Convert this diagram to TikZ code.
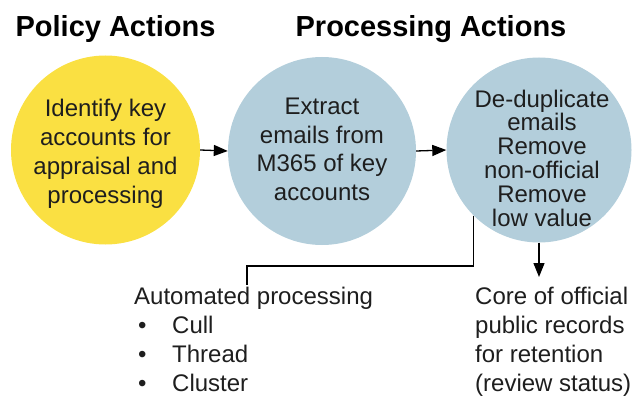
\documentclass[tikz,border=0pt]{standalone}
\usepackage{fontspec}
\setmainfont{Liberation Sans}
\usetikzlibrary{arrows.meta}
\definecolor{policyyellow}{HTML}{FAE042}
\definecolor{procblue}{HTML}{B3CEDB}
\definecolor{ink}{HTML}{1E1E1E}
\begin{document}
\begin{tikzpicture}[x=1pt,y=-1pt,
  disc/.style={circle, minimum size=#1, inner sep=0pt, draw=none},
  disctext/.style={align=center, anchor=base, inner sep=0pt, text=ink},
  heading/.style={font=\fontsize{29}{34}\selectfont\bfseries, anchor=base, inner sep=0pt, text=black},
  body/.style={font=\fontsize{24}{29}\selectfont, align=left, anchor=base west, inner sep=0pt, text=ink},
  flow/.style={-{Triangle[length=14pt,width=11pt]}, line width=1.3pt},
  link/.style={line width=1.3pt}]
\useasboundingbox (0,0) rectangle (632,396);

% headings
\node[heading] (hpolicy) at (115.5,37) {Policy Actions};
\node[heading] (hproc) at (431,37) {Processing Actions};

% the three stages
\node[disc=189pt, fill=policyyellow] (policy) at (105.5,150) {};
\node[disc=188pt, fill=procblue] (extract) at (322,151) {};
\node[disc=185pt, fill=procblue] (review) at (539,150) {};

% stage texts, placed by the baseline of their last line
\node[disctext, font=\fontsize{24}{28.7}\selectfont] (policyT) at (105.5,203)
  {Identify key\\accounts for\\appraisal and\\processing};
\node[disctext, font=\fontsize{24}{28.5}\selectfont] (extractT) at (322,200)
  {Extract\\emails from\\M365 of key\\accounts};
\node[disctext, font=\fontsize{24}{23.8}\selectfont] (reviewT) at (542,226)
  {De-duplicate\\emails\\Remove\\non-official\\Remove\\low value};

% flow between stages
\draw[flow] (policy.east) -- (extract.west);
\draw[flow] (extract.east) -- (review.west);

% outputs
\node[body] (auto) at (134,391)
  {Automated processing\\
   \hspace*{4pt}\makebox[34pt][l]{\textbullet}Cull\\
   \hspace*{4pt}\makebox[34pt][l]{\textbullet}Thread\\
   \hspace*{4pt}\makebox[34pt][l]{\textbullet}Cluster};
\node[body] (core) at (475,391)
  {Core of official\\public records\\for retention\\(review status)};

\coordinate (elbow) at (247,266);
\coordinate (autoTop) at (247,285);
\coordinate (coreTop) at (539,277);
\draw[link] (review.225.4) |- (elbow) -- (autoTop);
\draw[flow] (review.south) -- (coreTop);
\end{tikzpicture}
\end{document}
